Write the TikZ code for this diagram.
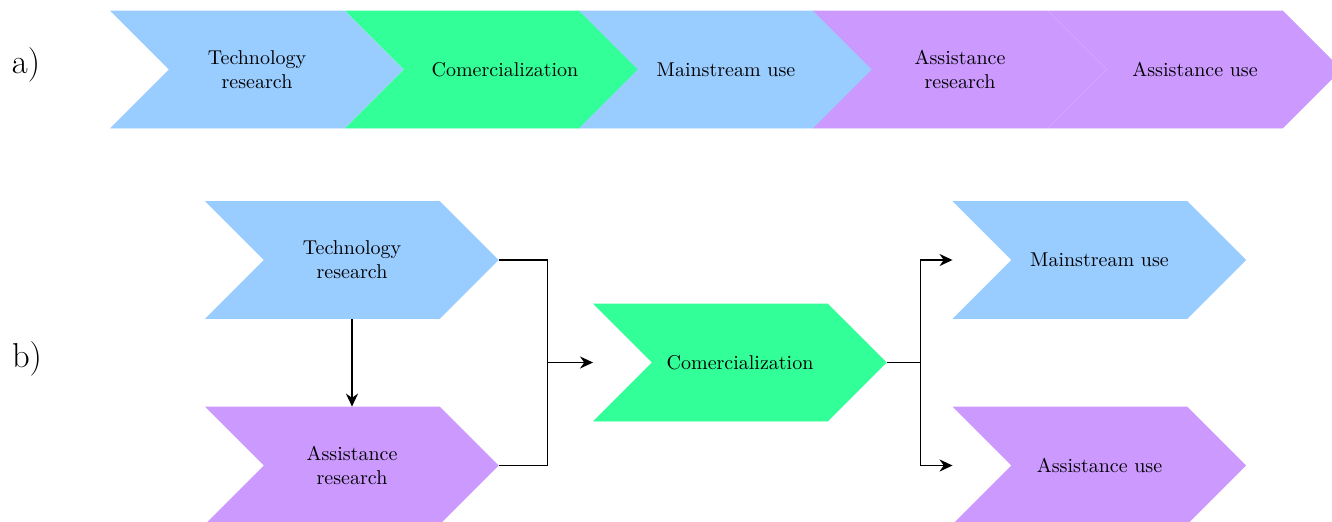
\documentclass[tikz,border=0pt]{standalone}
\usetikzlibrary{shapes.symbols,arrows.meta}

\definecolor{techblue}{RGB}{153,204,255}
\definecolor{comgreen}{RGB}{51,255,153}
\definecolor{assistpurple}{RGB}{204,153,255}

\tikzset{every picture/.style={line width=0.8pt}}
\tikzset{chev/.style={shape=signal, signal from=west, signal to=east, signal pointer angle=90,
    minimum width=146pt, minimum height=58.5pt, inner sep=0pt, align=center,
    fill=#1, draw=#1, line width=0.4pt}}
\tikzset{flow/.style={-{Stealth[length=6.5pt,width=6pt]}}}

\begin{document}
\begin{tikzpicture}[x=0.5pt,y=0.5pt,yscale=-1,xscale=1]
\useasboundingbox (0,0) rectangle (1332,521);

% a)
\node (labA) at (26,64.5) {\LARGE a)};
\node (techA) [chev=techblue] at (257,69.5) {Technology\\research};
\node (comA) [chev=comgreen] at (492,69.5) {};
\node (comAtxt) at (505,69.5) {Comercialization};
\node (mainA) [chev=techblue] at (726,69.5) {Mainstream use};
\node (assistA) [chev=assistpurple] at (960,69.5) {Assistance\\research};
\node (useA) [chev=assistpurple] at (1195,69.5) {Assistance use};

% b)
\node (labB) at (27,359) {\LARGE b)};
\node (techB) [chev=techblue] at (352,260) {Technology\\research};
\node (assistB) [chev=assistpurple] at (352,465.5) {Assistance\\research};
\node (comB) [chev=comgreen] at (740,362.5) {Comercialization};
\node (mainB) [chev=techblue] at (1099.5,260) {Mainstream use};
\node (useB) [chev=assistpurple] at (1099.5,465.5) {Assistance use};

\coordinate (comIn) at (comB.north west |- comB.center);
\coordinate (mainIn) at (mainB.north west |- mainB.center);
\coordinate (useIn) at (useB.north west |- useB.center);

\draw [flow] (techB.south) -- (assistB.north);
\draw (techB.east) -- ++(49,0) coordinate (joinL) |- (assistB.east);
\draw [flow] (joinL |- comB.center) -- (comIn);
\draw (comB.east) -- ++(34,0) coordinate (joinR);
\draw [flow] (joinR) |- (mainIn);
\draw [flow] (joinR) |- (useIn);

\end{tikzpicture}
\end{document}
